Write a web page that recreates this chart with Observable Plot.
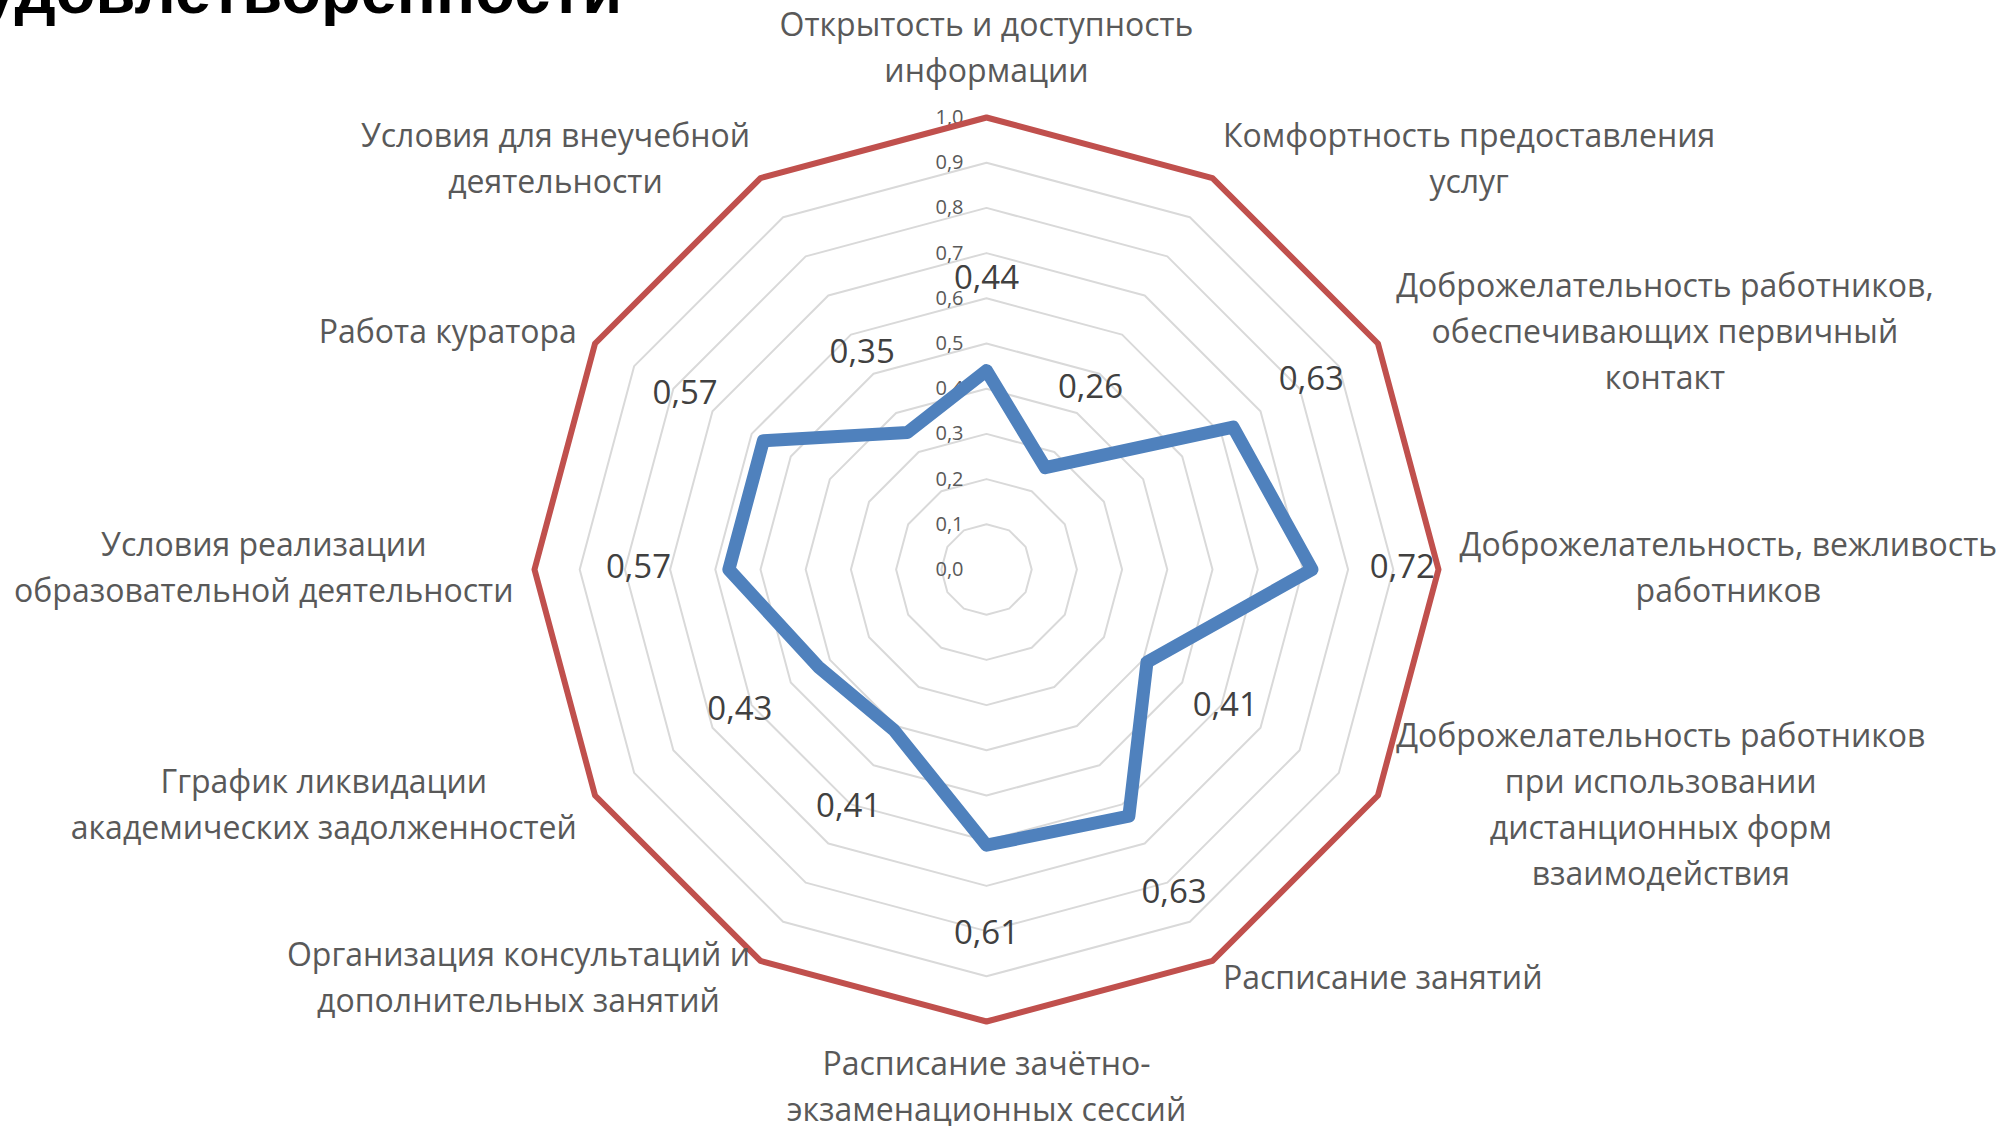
<!DOCTYPE html>
<html><head><meta charset="utf-8">
<script src="https://cdn.jsdelivr.net/npm/d3@7"></script>
<script src="https://cdn.jsdelivr.net/npm/@observablehq/plot@0.6"></script>
<style>
html,body{margin:0;padding:0;background:#fff;overflow:hidden;width:2005px;height:1126px;}
#wrap{position:relative;width:2005px;height:1126px;overflow:hidden;}
#title{position:absolute;left:-20px;top:-42px;font-family:"Liberation Sans",Arial,sans-serif;font-weight:bold;font-size:65px;line-height:1;color:#000;white-space:nowrap;}
#chart{position:absolute;left:0;top:0;}
</style></head><body>
<div id="wrap"><div id="chart"></div><div id="title">удовлетворенности</div></div>
<script>
const categories = [
  "Открытость и доступность\nинформации",
  "Комфортность предоставления\nуслуг",
  "Доброжелательность работников,\nобеспечивающих первичный\nконтакт",
  "Доброжелательность, вежливость\nработников",
  "Доброжелательность работников\nпри использовании\nдистанционных форм\nвзаимодействия",
  "Расписание занятий",
  "Расписание зачётно-\nэкзаменационных сессий",
  "Организация консультаций и\nдополнительных занятий",
  "Гграфик ликвидации\nакадемических задолженностей",
  "Условия реализации\nобразовательной деятельности",
  "Работа куратора",
  "Условия для внеучебной\nдеятельности"
];
const satisfaction = [0.44, 0.26, 0.63, 0.72, 0.41, 0.63, 0.61, 0.41, 0.43, 0.57, 0.57, 0.35];
const maximum = [1, 1, 1, 1, 1, 1, 1, 1, 1, 1, 1, 1];
const tickValues = [0, 0.1, 0.2, 0.3, 0.4, 0.5, 0.6, 0.7, 0.8, 0.9, 1.0];

// layout
const W = 2005, H = 1126, CX = 986, CY = 569, RPX = 452;
const FONT = "'Open Sans', 'Noto Sans', sans-serif";
const CAT_SIZE = 32, LINE_PX = 46;
const n = categories.length;
const ang = i => i * 2 * Math.PI / n;
const px = (r, i) => r * Math.sin(ang(i));
const py = (r, i) => r * Math.cos(ang(i));
const comma = (v, d) => v.toFixed(d).replace(".", ",");

const gridLevels = tickValues.filter(v => v > 0 && v < 1);
const gridData = gridLevels.flatMap(l => categories.map((c, i) => ({l, x: px(l, i), y: py(l, i)})));
const maxData = maximum.map((v, i) => ({x: px(v, i), y: py(v, i)}));
const serData = satisfaction.map((v, i) => ({x: px(v, i), y: py(v, i)}));
const valueLabels = satisfaction.map((v, i) => ({t: comma(v, 2), x: px(v + 0.2, i), y: py(v + 0.2, i)}));
const tickLabels = tickValues.map(v => ({t: comma(v, 1), x: 0, y: v}));

// category label placement (box edge at a fixed distance outside the outer ring)
const ctx = document.createElement("canvas").getContext("2d");
ctx.font = `${CAT_SIZE}px ${FONT}`;
const r0 = 1 + 21 / RPX;
const catData = categories.map((c, i) => {
  const w = Math.max(...c.split("\n").map(s => ctx.measureText(s).width));
  const s = Math.sin(ang(i));
  const side = Math.abs(s) < 1e-6 ? 0 : Math.sign(s);
  return {t: c, i, side, x: px(r0, i) + side * (w / 2) / RPX, y: py(r0, i)};
});

const catStyle = {x: "x", y: "y", text: "t", fontSize: CAT_SIZE, lineHeight: LINE_PX / CAT_SIZE, fill: "#595959", textAnchor: "middle"};

const plot = Plot.plot({
  width: W, height: H, margin: 0,
  x: {domain: [-CX / RPX, (W - CX) / RPX], axis: null},
  y: {domain: [-(H - CY) / RPX, CY / RPX], axis: null},
  style: {background: "#fff", fontFamily: FONT},
  marks: [
    Plot.line(gridData, {x: "x", y: "y", z: "l", curve: "linear-closed", stroke: "#d9d9d9", strokeWidth: 2}),
    Plot.text(tickLabels, {x: "x", y: "y", text: "t", textAnchor: "end", dx: -23, fontSize: 20, fill: "#595959"}),
    Plot.line(maxData, {x: "x", y: "y", curve: "linear-closed", stroke: "#C0504D", strokeWidth: 6, strokeLinejoin: "round"}),
    Plot.line(serData, {x: "x", y: "y", curve: "linear-closed", stroke: "#4F81BD", strokeWidth: 13, strokeLinejoin: "round"}),
    Plot.text(valueLabels, {x: "x", y: "y", text: "t", fontSize: 33, fill: "#404040", dy: -2}),
    Plot.text(catData.filter(d => d.side !== 0), {...catStyle, lineAnchor: "middle", dy: -5}),
    Plot.text(catData.filter(d => d.side === 0 && d.y > 0), {...catStyle, lineAnchor: "bottom", dy: -15}),
    Plot.text(catData.filter(d => d.side === 0 && d.y < 0), {...catStyle, lineAnchor: "top"})
  ]
});
document.getElementById("chart").appendChild(plot);
</script>
</body></html>
